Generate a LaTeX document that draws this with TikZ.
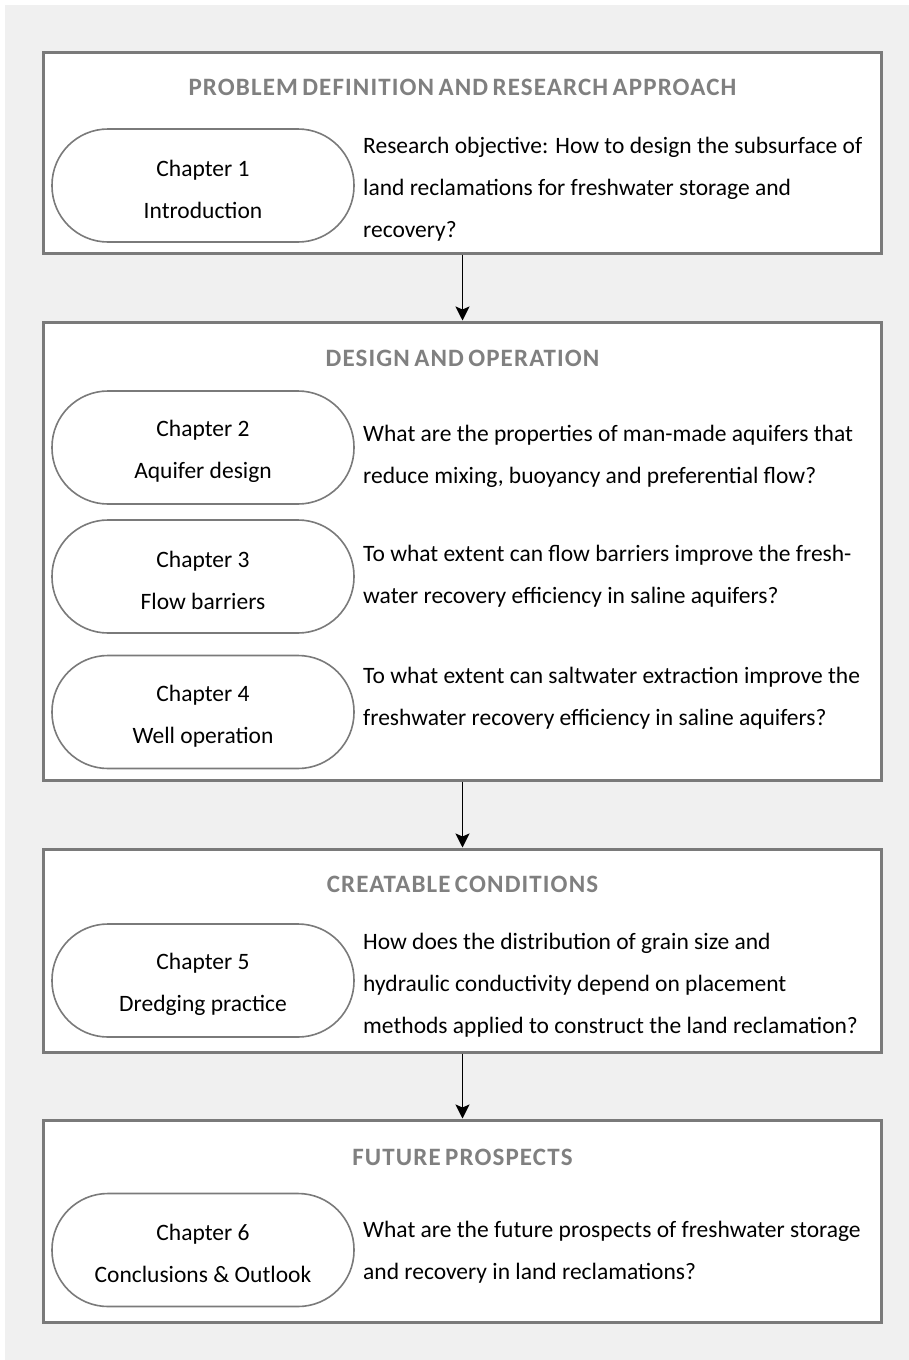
\documentclass[tikz,border=0pt]{standalone}
\usepackage{fontspec}
\setmainfont{Carlito}
\newfontfamily\titulofont[WordSpace=0.65,LetterSpace=4.5]{Carlito}
\usepackage{xcolor}
\usepackage{tikz}
\usetikzlibrary{arrows.meta,positioning}
\definecolor{fundo}{HTML}{F0F0F0}
\definecolor{moldura}{HTML}{7A7A7A}
\definecolor{cinzatitulo}{HTML}{808080}
\newcommand{\topo}{\rule{0pt}{24pt}}
\tikzset{
    bloco/.style={
        rectangle,
        draw=moldura,
        line width=3pt,
        fill=white,
        minimum width=838pt,
        inner sep=0pt
    },
    capitulo/.style={
        rectangle,
        draw=moldura,
        line width=1.6pt,
        rounded corners=56pt,
        fill=white,
        align=center,
        minimum width=302pt,
        minimum height=113pt,
        font=\fontsize{23.5}{42}\selectfont
    },
    pergunta/.style={
        anchor=west,
        align=left,
        inner sep=0pt,
        font=\fontsize{23.5}{42}\selectfont
    },
    cabecalho/.style={
        inner sep=0pt,
        text=cinzatitulo,
        font=\titulofont\bfseries\fontsize{25}{28}\selectfont
    },
    fluxo/.style={-{Stealth[length=14pt,width=14pt,inset=3pt]}, line width=1.8pt}
}

\begin{document}
\begin{tikzpicture}[x=1pt,y=-1pt]

    \useasboundingbox (0,0) rectangle (909,1360);
    \fill[fundo] (5,5) rectangle (909,1360);

    % blocos
    \node[bloco, minimum height=201pt] (bloco1) at (462.5,152.5) {};
    \node[bloco, minimum height=458pt] (bloco2) at (462.5,551) {};
    \node[bloco, minimum height=203pt] (bloco3) at (462.5,950.5) {};
    \node[bloco, minimum height=202pt] (bloco4) at (462.5,1221) {};

    % titulos
    \node[cabecalho] (titulo1) at (462.5,87)
    {PROBLEM DEFINITION AND RESEARCH APPROACH};
    \node[cabecalho] (titulo2) at (462.5,358)
    {DESIGN AND OPERATION};
    \node[cabecalho] (titulo3) at (462.5,884)
    {CREATABLE CONDITIONS};
    \node[cabecalho] (titulo4) at (462.5,1157)
    {FUTURE PROSPECTS};

    % capitulos
    \node[capitulo] (cap1) at (203,185.5) {\topo Chapter 1\\ Introduction};
    \node[capitulo] (cap2) at (203,447.5) {\topo Chapter 2\\ Aquifer design};
    \node[capitulo] (cap3) at (203,576.5) {\topo Chapter 3\\ Flow barriers};
    \node[capitulo] (cap4) at (203,712) {\topo Chapter 4\\ Well operation};
    \node[capitulo] (cap5) at (203,980.5) {\topo Chapter 5\\ Dredging practice};
    \node[capitulo] (cap6) at (203,1250) {\topo Chapter 6\\ Conclusions \& Outlook};

    % perguntas
    \node[pergunta] (perg1) at (363,189)
    {Research objective: How to design the subsurface of\\
     land reclamations for freshwater storage and\\
     recovery?};
    \node[pergunta] (perg2) at (363,456)
    {What are the properties of man-made aquifers that\\
     reduce mixing, buoyancy and preferential flow?};
    \node[pergunta] (perg3) at (363,576.5)
    {To what extent can flow barriers improve the fresh-\\
     water recovery efficiency in saline aquifers?};
    \node[pergunta] (perg4) at (363,698)
    {To what extent can saltwater extraction improve the\\
     freshwater recovery efficiency in saline aquifers?};
    \node[pergunta] (perg5) at (363,985)
    {How does the distribution of grain size and\\
     hydraulic conductivity depend on placement\\
     methods applied to construct the land reclamation?};
    \node[pergunta] (perg6) at (363,1252)
    {What are the future prospects of freshwater storage\\
     and recovery in land reclamations?};

    \draw[fluxo] (bloco1) -- (bloco2);
    \draw[fluxo] (bloco2) -- (bloco3);
    \draw[fluxo] (bloco3) -- (bloco4);

\end{tikzpicture}
\end{document}
